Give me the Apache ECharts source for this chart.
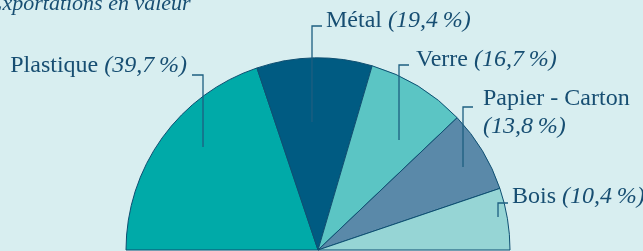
<!DOCTYPE html>
<html>
<head>
<meta charset="utf-8">
<script src="https://cdn.jsdelivr.net/npm/echarts@6/dist/echarts.min.js"></script>
<style>
  html, body { margin: 0; padding: 0; background: #d8eef0; }
  #main { width: 643px; height: 251px; }
</style>
</head>
<body>
<div id="main"></div>
<script>
// matériaux et parts (%)
var categories = ["Plastique", "Métal", "Verre", "Papier - Carton", "Bois"];
var shares = [39.7, 19.4, 16.7, 13.8, 10.4];
var colors = ["#00aaa8", "#005b82", "#5bc5c4", "#5a89a9", "#96d5d5"];

// emplacement des étiquettes : [x texte, ligne de base, x trait, bas du trait, y trait]
var labelSpots = [
  [187, 73, 203, 147, 75],
  [326, 28, 312, 122, 26],
  [416, 67, 399, 140, 65],
  [483, 106, 463, 167, 107],
  [512, 204, 498, 217, 203]
];

var txt = "#174e72";
var fam = "Liberation Serif";
var chart = echarts.init(document.getElementById("main"));

function pct(v) {
  return "(" + String(v).replace(".", ",") + "\u202f%)";
}

// traits de rappel, dessinés par-dessus les secteurs
var leaders = labelSpots.map(function (s, i) {
  var hx = i === 0 ? s[2] - 11 : s[2] + 10;
  return {
    type: "polyline",
    z: 100,
    silent: true,
    shape: { points: [[s[2], s[3]], [s[2], s[4]], [hx, s[4]]] },
    style: { stroke: "#1d5f80", lineWidth: 1.3, fill: null }
  };
});

var option = {
  backgroundColor: "#d8eef0",
  animation: false,
  graphic: [
    {
      type: "text",
      left: -11,
      top: -7,
      style: {
        text: "Exportations en valeur",
        fontFamily: fam,
        fontStyle: "italic",
        fontSize: 22,
        fill: txt
      }
    }
  ].concat(leaders),
  series: [
    {
      type: "pie",
      center: [318, 250],
      radius: 192,
      startAngle: 180,
      endAngle: 0,
      clockwise: true,
      avoidLabelOverlap: false,
      itemStyle: { borderColor: "#0e4f72", borderWidth: 1 },
      emphasis: { disabled: true },
      label: {
        show: true,
        position: "outside",
        color: txt,
        fontFamily: fam,
        fontSize: 24,
        lineHeight: 28,
        formatter: function (p) {
          var sep = p.dataIndex === 3 ? "\n" : " ";
          return "{n|" + p.name + "}" + sep + "{i|" + pct(p.value) + "}";
        },
        rich: {
          n: { fontFamily: fam, fontSize: 24, color: txt, lineHeight: 28 },
          i: { fontFamily: fam, fontSize: 24, fontStyle: "italic", color: txt, lineHeight: 28 }
        }
      },
      labelLine: { show: false },
      labelLayout: function (params) {
        var s = labelSpots[params.dataIndex];
        return {
          x: s[0],
          y: s[1] - 21,
          align: params.dataIndex === 0 ? "right" : "left",
          verticalAlign: "top"
        };
      },
      data: categories.map(function (c, i) {
        return { name: c, value: shares[i], itemStyle: { color: colors[i] } };
      })
    }
  ]
};
chart.setOption(option);
</script>
</body>
</html>
